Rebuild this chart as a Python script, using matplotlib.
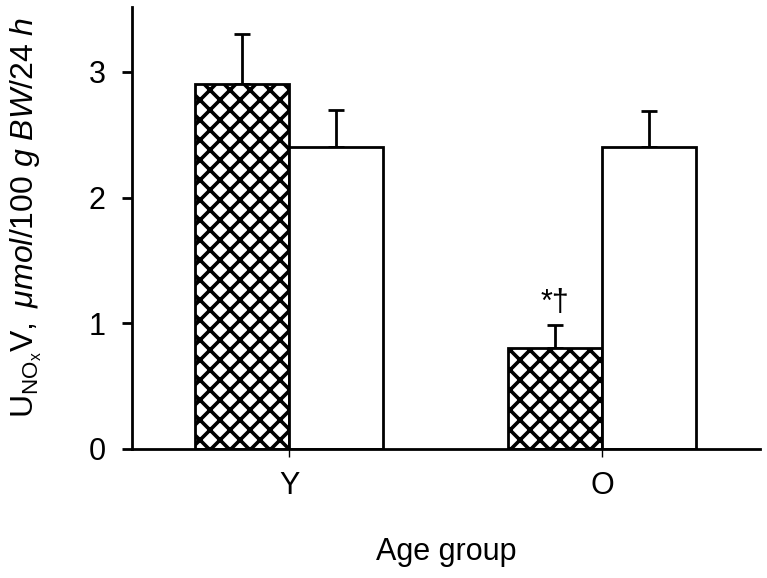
import matplotlib
matplotlib.use("Agg")
import matplotlib.pyplot as plt
from matplotlib.backend_bases import GraphicsContextBase
import numpy as np

groups = ["Y", "O"]
hatched_vals = [2.90, 0.80]
hatched_err = [0.40, 0.19]
white_vals = [2.40, 2.40]
white_err = [0.30, 0.29]
annotation = "*\u2020"

# cross-hatch density chosen to tile cleanly at 100 dpi
_orig_hatch_path = GraphicsContextBase.get_hatch_path
def _hatch_path(self, density=10.0):
    return _orig_hatch_path(self, density)
GraphicsContextBase.get_hatch_path = _hatch_path

plt.rcParams['font.family'] = ['Liberation Sans', 'DejaVu Sans']
plt.rcParams['mathtext.fontset'] = 'custom'
plt.rcParams['mathtext.rm'] = 'Liberation Sans'
plt.rcParams['mathtext.it'] = 'Liberation Sans:italic'
plt.rcParams['mathtext.bf'] = 'Liberation Sans:bold'
plt.rcParams['hatch.linewidth'] = 2.6

fig = plt.figure(figsize=(7.67, 5.78), dpi=100)
ax = fig.add_axes([132/767, 1 - 449/578, (760-132)/767, (449-7)/578])

x = np.arange(len(groups))
w = 0.30
lw = 2.0
ax.bar(x - w/2, hatched_vals, w, color='white', edgecolor='black', hatch='x',
       linewidth=lw, zorder=2)
ax.bar(x + w/2, white_vals, w, color='white', edgecolor='black',
       linewidth=lw, zorder=2)
ax.errorbar(x - w/2, hatched_vals, yerr=[np.zeros(len(groups)), hatched_err],
            fmt='none', ecolor='black', elinewidth=2.0, capsize=5.5, capthick=2.0, zorder=1)
ax.errorbar(x + w/2, white_vals, yerr=[np.zeros(len(groups)), white_err],
            fmt='none', ecolor='black', elinewidth=2.0, capsize=5.5, capthick=2.0, zorder=1)

ax.text(x[1] - w/2, hatched_vals[1] + hatched_err[1] + 0.05, annotation,
        ha='center', va='bottom', fontsize=22)

ax.set_xlim(-0.502, 1.505)
ax.set_ylim(0, 3.516)
ax.set_xticks(x)
ax.set_xticklabels(groups, fontsize=22)
ax.set_yticks([0, 1, 2, 3])
ax.set_yticklabels(['0', '1', '2', '3'], fontsize=22)
for s in ['top', 'right']:
    ax.spines[s].set_visible(False)
for s in ['left', 'bottom']:
    ax.spines[s].set_linewidth(2.0)
ax.tick_params(axis='y', direction='out', length=7, width=2.0, pad=12)
ax.tick_params(axis='x', direction='out', length=6, width=1.0, pad=10)

ax.set_ylabel(r'$\mathrm{U_{NO_x}V,}\ \mathit{\mu mol/100\ g\ BW/24\ h}$', fontsize=23)
ax.yaxis.set_label_coords(-0.14, 0.525)
ax.set_xlabel('Age group', fontsize=22, va='top')
ax.xaxis.set_label_coords(0.5, -0.20)

fig.savefig('out.png', dpi=100)
